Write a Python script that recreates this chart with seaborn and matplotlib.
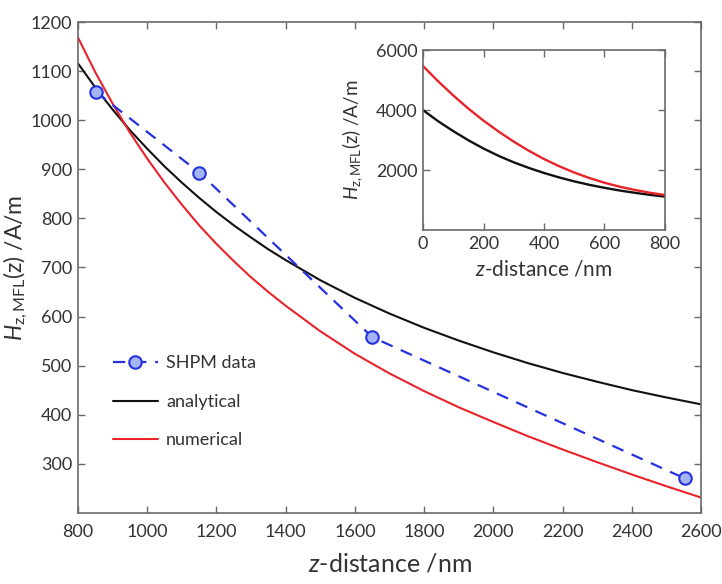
import matplotlib
matplotlib.use("Agg")
import matplotlib.pyplot as plt
import seaborn as sns
import pandas as pd

# ---- data ----
z_nm = [0, 50, 100, 150, 200, 250, 300, 350, 400, 450, 500, 550, 600, 650, 700, 750, 800,
        850, 900, 950, 1000, 1050, 1100, 1150, 1200, 1250, 1300, 1350, 1400, 1500, 1600, 1700,
        1800, 1900, 2000, 2100, 2200, 2300, 2400, 2500, 2600]
analytical = [4000, 3630, 3300, 2995, 2720, 2475, 2260, 2073, 1905, 1757, 1625, 1510, 1410, 1321, 1245, 1176, 1116,
              1067, 1022, 980, 942, 906, 873, 842, 813, 786, 761, 737, 715, 674, 638, 606,
              577, 551, 527, 505, 485, 467, 450, 435, 421]
numerical = [5470, 4960, 4490, 4050, 3650, 3285, 2950, 2644, 2370, 2131, 1920, 1736, 1580, 1448, 1340, 1246, 1169,
             1098, 1034, 975, 922, 873, 828, 786, 748, 713, 680, 650, 622, 570, 524, 484,
             448, 415, 385, 356, 329, 303, 278, 254, 231]
shpm_z = [852, 1151, 1650, 2553]
shpm_h = [1058, 893, 558, 270]

main_xticks = [800, 1000, 1200, 1400, 1600, 1800, 2000, 2200, 2400, 2600]
main_yticks = [300, 400, 500, 600, 700, 800, 900, 1000, 1100, 1200]
inset_xticks = [0, 200, 400, 600, 800]
inset_yticks = [2000, 4000, 6000]

curves = pd.DataFrame({"z": z_nm, "analytical": analytical, "numerical": numerical})
shpm = pd.DataFrame({"z": shpm_z, "H": shpm_h})

# ---- style ----
sns.set_style("ticks")
FONT = "Lato"
plt.rcParams["font.family"] = [FONT, "DejaVu Sans"]
plt.rcParams["mathtext.fontset"] = "custom"
plt.rcParams["mathtext.rm"] = FONT
plt.rcParams["mathtext.it"] = FONT + ":italic"
plt.rcParams["mathtext.bf"] = FONT + ":bold"

SPINE = "#6a6a6a"
TEXT = "#333333"
RED = "#e8232a"
BLACK = "#111111"
BLUE = "#2631e0"
FACE = "#a3b5f2"

fig = plt.figure(figsize=(7.22, 5.84), dpi=100)
ax = fig.add_axes([0.108, 0.122, 0.863, 0.84])

sns.lineplot(data=curves, x="z", y="analytical", ax=ax, color=BLACK, lw=1.5,
             estimator=None, sort=False, label="analytical")
sns.lineplot(data=curves, x="z", y="numerical", ax=ax, color=RED, lw=1.5,
             estimator=None, sort=False, label="numerical")
sns.lineplot(data=shpm, x="z", y="H", ax=ax, color=BLUE, lw=1.6,
             linestyle=(0, (5.5, 4)), marker="o", markersize=9,
             markerfacecolor=FACE, markeredgecolor=BLUE, markeredgewidth=1.5,
             estimator=None, sort=False, label="SHPM data")

ax.set_xlim(800, 2600)
ax.set_ylim(200, 1200)
ax.set_xticks(main_xticks)
ax.set_yticks(main_yticks)
ax.set_xlabel(r"$z$-distance /nm", fontsize=18, color=TEXT, labelpad=9)
ax.set_ylabel(r"$H_{\mathrm{z,MFL}}$(z) /A/m", fontsize=16.5, color=TEXT, labelpad=1)

def style_axes(a, size):
    for s in a.spines.values():
        s.set_color(SPINE)
        s.set_linewidth(1.2)
        s.set_visible(True)
    a.tick_params(direction="in", length=5, width=1.0, color=SPINE,
                  labelsize=size, labelcolor=TEXT, top=True, right=True, pad=4)
    a.tick_params(axis="x", pad=8)
    a.grid(False)

style_axes(ax, 13)

handles, labels = ax.get_legend_handles_labels()
order = [labels.index("SHPM data"), labels.index("analytical"), labels.index("numerical")]
ax.legend([handles[i] for i in order], [labels[i] for i in order],
          loc="center left", bbox_to_anchor=(0.056, 0.226), frameon=False,
          fontsize=13, handlelength=2.5, handletextpad=0.45, labelspacing=1.25,
          borderpad=0, borderaxespad=0, labelcolor=TEXT)

# ---- inset ----
ins = fig.add_axes([0.586, 0.606, 0.335, 0.308])
sns.lineplot(data=curves, x="z", y="analytical", ax=ins, color=BLACK, lw=1.7,
             estimator=None, sort=False, legend=False)
sns.lineplot(data=curves, x="z", y="numerical", ax=ins, color=RED, lw=1.7,
             estimator=None, sort=False, legend=False)
ins.set_xlim(0, 800)
ins.set_ylim(0, 6000)
ins.set_xticks(inset_xticks)
ins.set_yticks(inset_yticks)
ins.set_xlabel(r"$z$-distance /nm", fontsize=15, color=TEXT, labelpad=6)
ins.set_ylabel(r"$H_{\mathrm{z,MFL}}$(z) /A/m", fontsize=13.5, color=TEXT, labelpad=8)
style_axes(ins, 13)
ins.tick_params(pad=4)

fig.savefig("out.png", dpi=100)
